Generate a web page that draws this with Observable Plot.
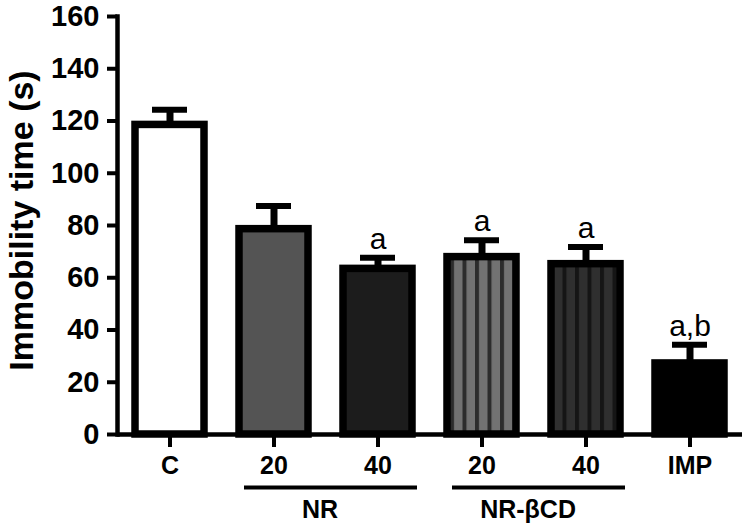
<!DOCTYPE html>
<html>
<head>
<meta charset="utf-8">
<script src="https://cdn.jsdelivr.net/npm/d3@7"></script>
<script src="https://cdn.jsdelivr.net/npm/@observablehq/plot@0.6"></script>
<style>
  body { margin: 0; background: #fff; }
</style>
</head>
<body>
<div id="chart"></div>
<script>
// Treatment groups (unique keys) and the labels printed under each bar
const categories = ["C", "NR 20", "NR 40", "NR-βCD 20", "NR-βCD 40", "IMP"];
const tickLabels = ["C", "20", "40", "20", "40", "IMP"];

// Mean immobility time (s) and SEM per group
const means = [118.5, 78.6, 63.4, 67.9, 65.2, 27.2];
const sems = [5.8, 8.9, 4.3, 6.5, 6.6, 7.2];

// Significance letters above the error bars
const sigLabels = ["", "", "a", "a", "a", "a,b"];

// Dose groups bracketed under the axis
const groupNames = ["NR", "NR-βCD"];
const groupFirst = ["NR 20", "NR-βCD 20"];
const groupLast = ["NR 40", "NR-βCD 40"];

const yTicks = [0, 20, 40, 60, 80, 100, 120, 140, 160];
const yLabel = "Immobility time (s)";

const data = categories.map((c, i) => ({
  group: c, mean: means[i], sem: sems[i], sig: sigLabels[i]
}));
const groups = groupNames.map((name, i) => ({
  name, first: groupFirst[i], last: groupLast[i]
}));

// Bar fills; the two NR-βCD bars use vertical stripe patterns
const barFill = {
  "C": "#ffffff",
  "NR 20": "#545454",
  "NR 40": "#1c1c1c",
  "NR-βCD 20": "url(#stripes-light)",
  "NR-βCD 40": "url(#stripes-dark)",
  "IMP": "#000000"
};

const W = 750, H = 524;
const marginLeft = 117, marginRight = 8, marginTop = 16, marginBottom = 90;
const step = (W - marginLeft - marginRight) / categories.length;
const formatTick = c => tickLabels[categories.indexOf(c)];

const plot = Plot.plot({
  width: W,
  height: H,
  marginLeft, marginRight, marginTop, marginBottom,
  style: {
    fontFamily: "'Liberation Sans', Arial, sans-serif",
    fontWeight: "bold",
    color: "#000",
    background: "#fff",
    overflow: "visible"
  },
  x: {
    domain: categories,
    paddingInner: 0.338,
    paddingOuter: 0.169,
    label: null
  },
  y: { domain: [0, 160], label: null },
  color: { type: "identity" },
  marks: [
    Plot.barY(data, {
      x: "group", y: "mean",
      fill: d => barFill[d.group],
      stroke: "#000", strokeWidth: 7.5
    }),
    // error bars: stem + cap
    Plot.ruleX(data, {
      x: "group", y1: "mean", y2: d => d.mean + d.sem,
      stroke: "#000", strokeWidth: 7
    }),
    Plot.tickY(data, {
      x: "group", y: d => d.mean + d.sem,
      stroke: "#000", strokeWidth: 6, insetLeft: 17, insetRight: 17
    }),
    Plot.text(data.filter(d => d.sig), {
      x: "group", y: d => d.mean + d.sem, text: "sig",
      lineAnchor: "bottom", dy: -9, fontSize: 30, fontWeight: "normal"
    }),
    // axis lines
    Plot.ruleY([0], { stroke: "#000", strokeWidth: 4.5 }),
    Plot.frame({ anchor: "left", stroke: "#000", strokeWidth: 4.5 }),
    Plot.axisY({
      ticks: yTicks, tickSize: 10, tickPadding: 8,
      fontSize: 29, strokeWidth: 4, label: null
    }),
    Plot.axisX({
      tickSize: 13, tickPadding: 9, fontSize: 25, strokeWidth: 4,
      label: null, tickFormat: formatTick
    }),
    // group brackets and names under the dose labels
    Plot.ruleY(groups, {
      y: () => 0, x1: "first", x2: "last",
      dx: 5, dy: 53, stroke: "#000", strokeWidth: 4
    }),
    Plot.text(groups, {
      x: "first", y: () => 0, text: "name",
      dx: step / 2 - 6, dy: 83, lineAnchor: "bottom", fontSize: 25
    }),
    // y axis title
    Plot.text([yLabel], {
      frameAnchor: "left", textAnchor: "middle", lineAnchor: "middle",
      rotate: -90, dx: -95, dy: -5, fontSize: 34
    })
  ]
});

// stripe patterns used by the NR-βCD bars
const defs = d3.select(plot).insert("defs", ":first-child");
function stripes(id, light, dark) {
  const p = defs.append("pattern")
    .attr("id", id)
    .attr("patternUnits", "userSpaceOnUse")
    .attr("width", 12.5)
    .attr("height", 10);
  p.append("rect").attr("width", 12.5).attr("height", 10).attr("fill", light);
  p.append("rect").attr("width", 4).attr("height", 10).attr("fill", dark);
}
stripes("stripes-light", "#727272", "#2c2c2c");
stripes("stripes-dark", "#2f2f2f", "#151515");

document.getElementById("chart").append(plot);
</script>
</body>
</html>
